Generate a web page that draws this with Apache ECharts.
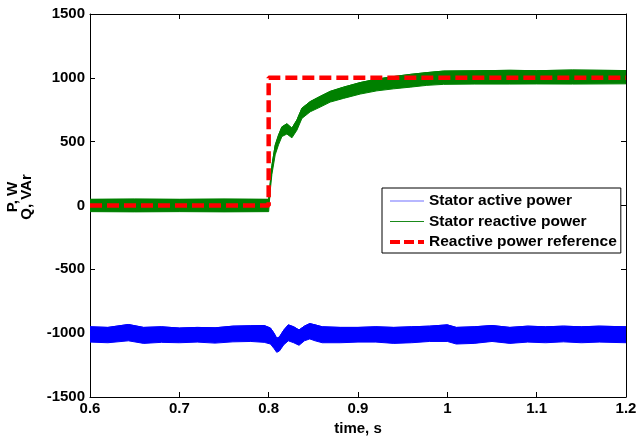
<!DOCTYPE html>
<html><head><meta charset="utf-8">
<script src="https://cdn.jsdelivr.net/npm/echarts@6/dist/echarts.min.js"></script>
<style>html,body{margin:0;padding:0;background:#fff}#c{width:637px;height:437px}</style>
</head><body><div id="c"></div>
<script>
// ---- data ----
const seriesNames = ['Stator active power', 'Stator reactive power', 'Reactive power reference'];
const xTickLabels = ['0.6', '0.7', '0.8', '0.9', '1', '1.1', '1.2'];
const yTickLabels = ['-1500', '-1000', '-500', '0', '500', '1000', '1500'];

// Stator active power (P) – noisy band, upper / lower envelopes
const pTime  = [0.6, 0.62, 0.643, 0.66, 0.68, 0.7, 0.72, 0.74, 0.76, 0.78, 0.795, 0.802, 0.806, 0.809, 0.812, 0.817, 0.822, 0.828, 0.834, 0.84, 0.846, 0.852, 0.86, 0.88, 0.9, 0.92, 0.94, 0.96, 0.98, 1.0, 1.01, 1.03, 1.05, 1.07, 1.09, 1.11, 1.13, 1.15, 1.17, 1.2];
const pUpper = [-950, -955, -932, -955, -950, -960, -955, -958, -945, -942, -940, -960, -1000, -1040, -1030, -975, -935, -950, -975, -945, -925, -935, -950, -955, -955, -950, -955, -950, -945, -935, -955, -950, -940, -955, -945, -950, -945, -950, -945, -950];
const pLower = [-1070, -1075, -1060, -1080, -1072, -1075, -1070, -1078, -1068, -1065, -1072, -1085, -1120, -1150, -1140, -1090, -1060, -1075, -1095, -1060, -1045, -1060, -1075, -1075, -1070, -1070, -1080, -1075, -1065, -1065, -1085, -1080, -1065, -1080, -1070, -1075, -1068, -1075, -1070, -1075];

// Stator reactive power (Q) – noisy band, upper / lower envelopes
const qTime  = [0.6, 0.65, 0.7, 0.75, 0.8, 0.8018, 0.8036, 0.8073, 0.811, 0.8148, 0.8204, 0.826, 0.8316, 0.8372, 0.8465, 0.8577, 0.8689, 0.8838, 0.9025, 0.9211, 0.94, 0.9585, 0.977, 0.9958, 1.03, 1.07, 1.1, 1.14, 1.2];
const qUpper = [48, 50, 48, 50, 48, 180, 313, 473, 551, 616, 640, 606, 670, 762, 814, 855, 894, 927, 963, 990, 1010, 1027, 1041, 1053, 1055, 1059, 1056, 1061, 1057];
const qLower = [-48, -50, -48, -50, -48, 120, 243, 397, 475, 540, 560, 530, 590, 682, 734, 771, 810, 839, 873, 898, 914, 927, 941, 949, 951, 951, 952, 951, 953];

// Reactive power reference
const refTime  = [0.6, 0.8, 0.8, 1.2];
const refValue = [0, 0, 1000, 1000];

// ---- build ----
const pairs = (t, v) => t.map((x, i) => [x, v[i]]);
const FONT = '"Liberation Sans", Arial, sans-serif';

function bandSeries(time, upper, lower, color) {
  return {
    type: 'custom', silent: true, z: 2, clip: true,
    data: time.map((t, i) => [t, lower[i], upper[i]]),
    encode: { x: 0, y: [1, 2] },
    renderItem: (params, api) => {
      if (params.dataIndex !== 0) return null;
      const top = time.map((t, i) => api.coord([t, upper[i]]));
      const bot = time.map((t, i) => api.coord([t, lower[i]])).reverse();
      return { type: 'polygon', shape: { points: top.concat(bot) },
        style: { fill: color, stroke: color, lineWidth: 1 } };
    }
  };
}

const axisCommon = {
  type: 'value',
  axisLine: { show: true, onZero: false, lineStyle: { color: '#000', width: 1 } },
  axisTick: { show: true, inside: true, length: 5, lineStyle: { color: '#000', width: 1 } },
  splitLine: { show: false }
};

const chart = echarts.init(document.getElementById('c'), null, { renderer: 'canvas' });
chart.setOption({
  animation: false,
  backgroundColor: '#fff',
  grid: { left: 90, top: 14, width: 536, height: 383, show: false, containLabel: false, outerBoundsMode: 'none' },
  xAxis: [
    Object.assign({}, axisCommon, {
      min: 0.6, max: 1.2, interval: 0.1, position: 'bottom',
      axisLabel: { color: '#000', fontWeight: 'bold', fontSize: 15, fontFamily: FONT, margin: 4,
        formatter: v => xTickLabels[Math.round((v - 0.6) / 0.1)] },
      name: 'time, s', nameLocation: 'middle', nameGap: 22,
      nameTextStyle: { color: '#000', fontWeight: 'bold', fontSize: 15, fontFamily: FONT }
    }),
    Object.assign({}, axisCommon, {
      min: 0.6, max: 1.2, interval: 0.1, position: 'top', axisLabel: { show: false }
    })
  ],
  yAxis: [
    Object.assign({}, axisCommon, {
      min: -1500, max: 1500, interval: 500, position: 'left',
      axisLabel: { color: '#000', fontWeight: 'bold', fontSize: 15, fontFamily: FONT, margin: 5,
        formatter: v => yTickLabels[Math.round((v + 1500) / 500)] }
    }),
    Object.assign({}, axisCommon, {
      min: -1500, max: 1500, interval: 500, position: 'right', axisLabel: { show: false }
    })
  ],
  legend: {
    data: [
      { name: seriesNames[0], lineStyle: { width: 1.2, color: '#7070ff' } },
      { name: seriesNames[1], lineStyle: { width: 1.2, color: '#1a8a1a' } },
      { name: seriesNames[2], lineStyle: { width: 4, type: [10, 4] } }
    ],
    orient: 'vertical', left: 382, top: 188,
    backgroundColor: '#fff', borderColor: '#000', borderWidth: 1, borderRadius: 0,
    padding: [5, 4, 3, 6], itemWidth: 34, itemHeight: 16, itemGap: 4.5, itemStyle: { opacity: 0 },
    textStyle: { color: '#000', fontWeight: 'bold', fontSize: 15.5, fontFamily: FONT },
    selectedMode: false
  },
  graphic: [{
    type: 'text', x: 20, y: 197, rotation: Math.PI / 2,
    style: { text: 'P, W\nQ, VAr', fill: '#000', font: 'bold 15px ' + FONT, align: 'center', verticalAlign: 'middle', lineHeight: 14 }
  }],
  series: [
    bandSeries(pTime, pUpper, pLower, '#0000ff'),
    { name: seriesNames[0], type: 'line', symbol: 'none', data: pairs(pTime, pUpper), z: 2,
      itemStyle: { color: '#0000ff' }, lineStyle: { color: '#0000ff', width: 1 } },
    bandSeries(qTime, qUpper, qLower, '#008000'),
    { name: seriesNames[1], type: 'line', symbol: 'none', data: pairs(qTime, qUpper), z: 2,
      itemStyle: { color: '#008000' }, lineStyle: { color: '#008000', width: 1 } },
    { name: seriesNames[2], type: 'line', symbol: 'none', data: pairs(refTime, refValue), z: 5,
      itemStyle: { color: '#ff0000' },
      lineStyle: { color: '#ff0000', width: 4.5, type: [12, 5] } }
  ]
});
</script></body></html>
